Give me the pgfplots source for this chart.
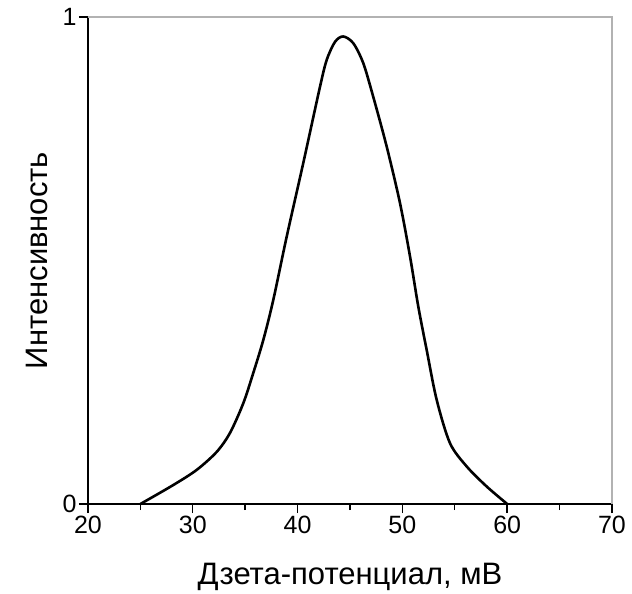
\documentclass[border=0pt]{standalone}
\usepackage{fontspec}
\setmainfont{Liberation Sans}
\usepackage{pgfplots}
\pgfplotsset{compat=1.18}
\begin{document}
\begin{tikzpicture}
\begin{axis}[
  name=a,
  scale only axis,
  width=524pt, height=487pt,
  xmin=20, xmax=70, ymin=0, ymax=1,
  axis lines*=left,
  axis line style={black, line width=1.6pt},
  xtick={20,30,40,50,60,70},
  minor xtick={25,35,45,55,65},
  ytick={0,1},
  tick align=outside,
  tick style={black, line width=1.4pt},
  major tick length=9pt,
  minor tick length=6pt,
  /pgf/number format/assume math mode=true,
  ticklabel style={font=\fontsize{25}{28}\selectfont},
  xticklabel style={yshift=0pt},
  yticklabel style={xshift=1pt},
  xlabel={Дзета-потенциал, мВ},
  ylabel={Интенсивность},
  label style={font=\fontsize{31}{34}\selectfont},
  xlabel style={yshift=-22pt},
  ylabel style={yshift=8pt},
  clip=false,
]
\draw[gray!60, line width=1.4pt] (rel axis cs:0,1) -- (rel axis cs:1,1) -- (rel axis cs:1,0);
\addplot[black, line width=2.6pt, smooth, tension=0.5] coordinates {
(25.0,0.000) (28.14,0.039) (30.37,0.070) (32.28,0.107) (33.55,0.146)
(34.82,0.207) (35.77,0.269) (36.73,0.337) (37.68,0.419) (38.96,0.549)
(40.54,0.700) (42.14,0.857) (42.78,0.912) (43.57,0.949) (44.36,0.960)
(45.32,0.946) (46.27,0.905) (47.22,0.836) (48.50,0.734) (49.77,0.618)
(50.73,0.508) (51.52,0.405) (52.32,0.316) (53.27,0.214) (54.54,0.125)
(56.14,0.077) (58.04,0.036) (60.0,0.000)
};
\end{axis}
\pgfresetboundingbox
\path (a.south west) ++(-88pt,-90pt) rectangle ++(632pt,594pt);
\end{tikzpicture}
\end{document}
